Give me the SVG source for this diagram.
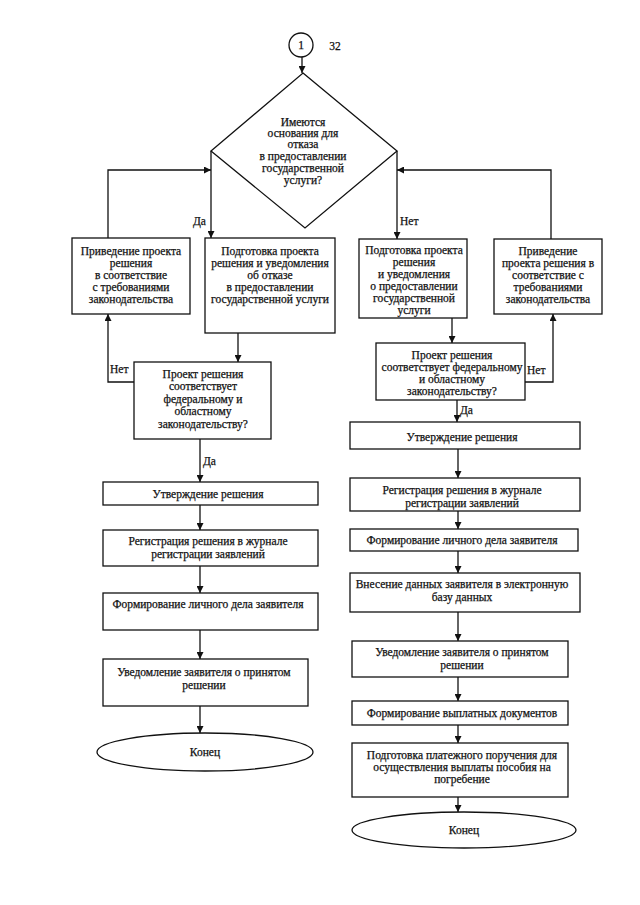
<svg xmlns="http://www.w3.org/2000/svg" width="640" height="905" viewBox="0 0 640 905">
<style>
text{font-family:"Liberation Serif","Times New Roman",serif;font-size:11.5px;fill:#111;stroke:#111;stroke-width:0.25;text-anchor:middle;dominant-baseline:central}
.box{fill:#fff;stroke:#111;stroke-width:1.3}
.ln{fill:none;stroke:#111;stroke-width:1.3}
.lbl{text-anchor:start}
</style>
<defs>
<marker id="ah" viewBox="0 0 10 10" refX="10" refY="5" markerWidth="7" markerHeight="7" markerUnits="userSpaceOnUse" orient="auto">
<path d="M0,0 L10,5 L0,10 z" fill="#111"/>
</marker>
<linearGradient id="bl" x1="0" x2="1" y1="0" y2="0">
<stop offset="0" stop-color="#aaa"/><stop offset="0.45" stop-color="#555"/><stop offset="0.55" stop-color="#111"/><stop offset="1" stop-color="#000"/>
</linearGradient>
</defs>

<g id="connectors" class="ln" marker-end="url(#ah)">
<path d="M302,57 V73"/>
<path d="M211,151 V238"/>
<path d="M108,238 V170 H211"/>
<path d="M397,151 V239"/>
<path d="M551,239 V170 H397"/>
<path d="M238,333 V362"/>
<path d="M134,382 H108 V314"/>
<path d="M200,439 V482"/>
<path d="M200,505 V530"/>
<path d="M200,566 V593"/>
<path d="M200,630 V659"/>
<path d="M200,706 V733"/>
<path d="M452,318 V343"/>
<path d="M525,382 H553 V314"/>
<path d="M457,400 V422"/>
<path d="M458,449 V478"/>
<path d="M458,511 V529"/>
<path d="M458,551 V573"/>
<path d="M458,612 V641"/>
<path d="M458,677 V701"/>
<path d="M458,725 V743"/>
<path d="M458,797 V812"/>
</g>

<g id="labels">
<text class="lbl" x="193" y="221">Да</text>
<text class="lbl" x="400" y="221">Нет</text>
<text class="lbl" x="110" y="369">Нет</text>
<text class="lbl" x="527" y="370">Нет</text>
<text class="lbl" x="203" y="461">Да</text>
<text class="lbl" x="460" y="410">Да</text>
<text x="335" y="46">32</text>
</g>

<g id="start">
<circle class="box" cx="301" cy="45" r="12"/>
<text x="301" y="45">1</text>
</g>

<g id="decision1">
<path class="box" d="M303,73 L397,151 L305,228 L211,151 Z"/>
<text x="303" y="122">Имеются</text>
<text x="303" y="133">основания для</text>
<text x="303" y="144">отказа</text>
<text x="303" y="156">в предоставлении</text>
<text x="303" y="168">государственной</text>
<text x="303" y="180">услуги?</text>
</g>

<g id="fixLeft">
<rect class="box" x="72" y="238" width="118" height="76"/>
<text x="131" y="251">Приведение проекта</text>
<text x="131" y="263">решения</text>
<text x="131" y="275">в соответствие</text>
<text x="131" y="287">с требованиями</text>
<text x="131" y="299">законодательства</text>
</g>

<g id="prepRefusal">
<rect class="box" x="205" y="238" width="130" height="95"/>
<text x="270" y="251">Подготовка проекта</text>
<text x="270" y="263">решения и уведомления</text>
<text x="270" y="275">об отказе</text>
<text x="270" y="287">в предоставлении</text>
<text x="270" y="299">государственной услуги</text>
</g>

<g id="prepGrant">
<rect class="box" x="359" y="239" width="108" height="79"/>
<text x="414" y="250">Подготовка проекта</text>
<text x="414" y="262">решения</text>
<text x="414" y="274">и уведомления</text>
<text x="414" y="286">о предоставлении</text>
<text x="414" y="298">государственной</text>
<text x="414" y="310">услуги</text>
</g>

<g id="fixRight">
<rect class="box" x="494" y="239" width="108" height="75"/>
<text x="548" y="251">Приведение</text>
<text x="548" y="263">проекта решения в</text>
<text x="548" y="275">соответствие с</text>
<text x="548" y="287">требованиями</text>
<text x="548" y="299">законодательства</text>
</g>

<g id="checkLeft">
<rect class="box" x="134" y="362" width="137" height="77"/>
<text x="203" y="374">Проект решения</text>
<text x="203" y="386">соответствует</text>
<text x="203" y="399">федеральному и</text>
<text x="203" y="411">областному</text>
<text x="203" y="424">законодательству?</text>
</g>

<g id="checkRight">
<rect class="box" x="376" y="343" width="149" height="57"/>
<text x="452" y="355">Проект решения</text>
<text x="452" y="367">соответствует федеральному</text>
<text x="452" y="379">и областному</text>
<text x="452" y="391">законодательству?</text>
</g>

<g id="approveLeft">
<rect class="box" x="103" y="482" width="215" height="23"/>
<text x="208" y="494">Утверждение решения</text>
</g>
<g id="registerLeft">
<rect class="box" x="103" y="530" width="215" height="36"/>
<text x="208" y="541">Регистрация решения в журнале</text>
<text x="208" y="554">регистрации заявлений</text>
</g>
<g id="caseLeft">
<rect class="box" x="103" y="593" width="215" height="37"/>
<text x="208" y="604">Формирование личного дела заявителя</text>
</g>
<g id="notifyLeft">
<rect class="box" x="103" y="659" width="205" height="47"/>
<text x="204" y="672">Уведомление заявителя о принятом</text>
<text x="204" y="685">решении</text>
</g>
<g id="endLeft">
<ellipse class="box" cx="205" cy="752" rx="108" ry="19"/>
<text x="205" y="752">Конец</text>
</g>

<g id="approveRight">
<rect class="box" x="350" y="422" width="230" height="27"/>
<text x="462" y="437">Утверждение решения</text>
</g>
<g id="registerRight">
<rect class="box" x="350" y="478" width="230" height="33"/>
<text x="462" y="490">Регистрация решения в журнале</text>
<text x="462" y="503">регистрации заявлений</text>
</g>
<g id="caseRight">
<rect class="box" x="350" y="529" width="228" height="22"/>
<text x="462" y="540">Формирование личного дела заявителя</text>
</g>
<g id="databaseRight">
<rect class="box" x="350" y="573" width="230" height="39"/>
<text x="462" y="584">Внесение данных заявителя в электронную</text>
<text x="462" y="597">базу данных</text>
</g>
<g id="notifyRight">
<rect class="box" x="352" y="641" width="216" height="36"/>
<text x="462" y="652">Уведомление заявителя о принятом</text>
<text x="462" y="665">решении</text>
</g>
<g id="paymentDocs">
<rect class="box" x="352" y="701" width="216" height="24"/>
<text x="462" y="713">Формирование выплатных документов</text>
</g>
<g id="paymentOrder">
<rect class="box" x="352" y="743" width="216" height="54"/>
<text x="462" y="755">Подготовка платежного поручения для</text>
<text x="462" y="767">осуществления выплаты пособия на</text>
<text x="462" y="779">погребение</text>
</g>
<g id="endRight">
<ellipse class="box" cx="464" cy="830" rx="112" ry="18"/>
<text x="464" y="830">Конец</text>
</g>

<line x1="45" y1="891" x2="632" y2="891" stroke="url(#bl)" stroke-width="2"/>
</svg>
